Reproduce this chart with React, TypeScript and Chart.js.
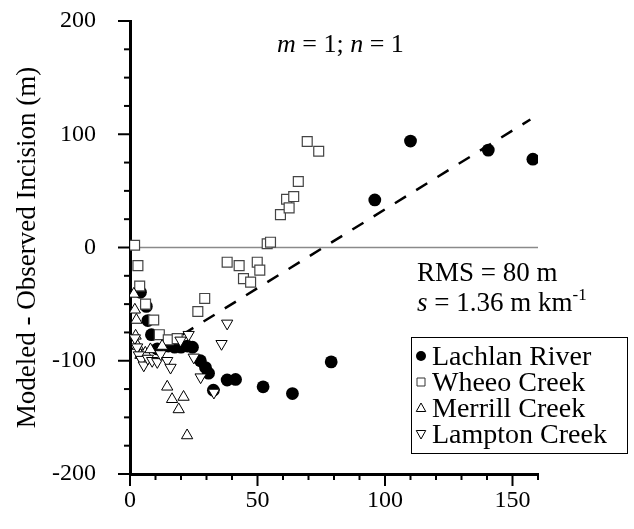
import React, { useEffect, useRef } from "react";
import { Chart, registerables } from "chart.js";

Chart.register(...registerables);

// Residuals (modeled - observed incision, m) against distance (km)
const lachlanRiver: [number, number][] = [
  [4.1, -39.5], [6.4, -52], [7.0, -64.5], [8.4, -77], [10.7, -89.5],
  [15, -87], [17.5, -88], [20, -88], [22.5, -87], [24.5, -88],
  [27.6, -100], [29.6, -106], [30.8, -111], [32.7, -126],
  [38.1, -117], [41.4, -116.5], [52.2, -123], [63.7, -129], [78.9, -101],
  [96, 42], [110, 94], [140.5, 86], [158, 78],
];

const wheeoCreek: [number, number][] = [
  [1.8, 2], [3.1, -16], [3.8, -34], [6.1, -50], [9.3, -64], [11.5, -77],
  [15, -81.5], [18.5, -80.5], [26.6, -56.5], [29.3, -45], [38.1, -13],
  [42.8, -16], [44.5, -27.5], [47.3, -30.6], [49.9, -13], [50.9, -20],
  [53.8, 3.3], [55.1, 4.7], [59, 29], [61.4, 42.6], [62.4, 35], [64.2, 45],
  [66, 58.3], [69.5, 93.6], [74, 85],
];

const merrillCreek: [number, number][] = [
  [1.5, -41], [1.9, -55], [2.5, -64], [2.2, -78], [3, -87], [4.1, -95],
  [6, -93], [8, -90], [12.6, -87], [14.6, -123], [16.5, -134], [19.1, -143],
  [21, -132], [22.4, -166],
];

const lamptonCreek: [number, number][] = [
  [1.9, -80], [2.8, -88], [3.5, -95], [4.5, -99], [5.4, -104], [7, -98],
  [8.7, -100], [10.7, -101], [12, -94], [14.6, -100], [15.9, -106],
  [19.8, -82], [23, -77], [25, -97], [27.7, -114.5], [32.9, -128],
  [35.9, -85], [38.1, -67],
];

// Dashed trend and zero reference line
const trendLine: [number, number][] = [[20.5, -77], [157, 113]];
const zeroLine: [number, number][] = [[0, 0], [160, 0]];

const xMajorTicks = [0, 50, 100, 150];
const yMajorTicks = [-200, -100, 0, 100, 200];
const xMinorStep = 10;
const yMinorStep = 25;

const seriesNames = ["Lachlan River", "Wheeo Creek", "Merrill Creek", "Lampton Creek"];

const SERIF = '"Liberation Serif", "Times New Roman", serif';

const toPoints = (arr: [number, number][]) => arr.map(([x, y]) => ({ x, y }));

type MarkerKind = "circle" | "square" | "up" | "down";

function drawMarker(ctx: CanvasRenderingContext2D, kind: MarkerKind, x: number, y: number, r: number) {
  ctx.save();
  ctx.beginPath();
  if (kind === "circle") {
    ctx.arc(x, y, r, 0, Math.PI * 2);
    ctx.fillStyle = "#000";
    ctx.fill();
  } else if (kind === "square") {
    ctx.rect(x - r, y - r, 2 * r, 2 * r);
    ctx.fillStyle = "#fff";
    ctx.fill();
    ctx.strokeStyle = "#333";
    ctx.lineWidth = 1;
    ctx.stroke();
  } else {
    const s = kind === "up" ? 1 : -1;
    ctx.moveTo(x, y - s * r);
    ctx.lineTo(x + r * 0.95, y + s * r * 0.7);
    ctx.lineTo(x - r * 0.95, y + s * r * 0.7);
    ctx.closePath();
    ctx.fillStyle = "#fff";
    ctx.fill();
    ctx.strokeStyle = "#000";
    ctx.lineWidth = 1;
    ctx.stroke();
  }
  ctx.restore();
}

const axisDecor = {
  id: "axisDecor",
  afterDraw(chart: any) {
    const { ctx, chartArea: area } = chart;
    const xs = chart.scales.x;
    const ys = chart.scales.y;
    ctx.save();
    ctx.strokeStyle = "#000";
    ctx.lineWidth = 2;
    for (let v = xs.min; v <= xs.max; v += xMinorStep) {
      const px = xs.getPixelForValue(v);
      const len = xMajorTicks.includes(v) ? 12 : 6;
      ctx.beginPath();
      ctx.moveTo(px, area.bottom);
      ctx.lineTo(px, area.bottom + len);
      ctx.stroke();
    }
    for (let v = ys.min; v <= ys.max; v += yMinorStep) {
      const py = ys.getPixelForValue(v);
      const len = yMajorTicks.includes(v) ? 12 : 6;
      ctx.beginPath();
      ctx.moveTo(area.left, py);
      ctx.lineTo(area.left - len, py);
      ctx.stroke();
    }

    // Model parameters
    ctx.fillStyle = "#000";
    ctx.textBaseline = "alphabetic";
    ctx.textAlign = "left";
    let tx = 277;
    const parts: [string, boolean][] = [["m", true], [" = 1; ", false], ["n", true], [" = 1", false]];
    for (const [t, it] of parts) {
      ctx.font = `${it ? "italic " : ""}26px ${SERIF}`;
      ctx.fillText(t, tx, 52);
      tx += ctx.measureText(t).width;
    }

    // Fit statistics
    ctx.font = `27px ${SERIF}`;
    ctx.fillText("RMS = 80 m", 417, 281);
    tx = 417;
    ctx.font = `italic 27px ${SERIF}`;
    ctx.fillText("s", tx, 311);
    tx += ctx.measureText("s").width;
    ctx.font = `27px ${SERIF}`;
    const body = " = 1.36 m km";
    ctx.fillText(body, tx, 311);
    tx += ctx.measureText(body).width;
    ctx.font = `17px ${SERIF}`;
    ctx.fillText("-1", tx, 300);

    // Legend
    const box = { x: 411, y: 337, w: 216, h: 116 };
    ctx.fillStyle = "#fff";
    ctx.fillRect(box.x, box.y, box.w, box.h);
    ctx.strokeStyle = "#000";
    ctx.lineWidth = 1;
    ctx.strokeRect(box.x + 0.5, box.y + 0.5, box.w, box.h);
    const kinds: MarkerKind[] = ["circle", "square", "up", "down"];
    const sizes = [5, 4, 5, 5];
    ctx.font = `28px ${SERIF}`;
    ctx.textBaseline = "alphabetic";
    ctx.fillStyle = "#000";
    seriesNames.forEach((name, i) => {
      const cy = box.y + 19 + i * 26;
      drawMarker(ctx, kinds[i], box.x + 10, cy, sizes[i]);
      ctx.fillStyle = "#000";
      ctx.fillText(name, box.x + 21, cy + 9);
    });
    ctx.restore();
  },
};

export default function App() {
  const ref = useRef<HTMLCanvasElement | null>(null);

  useEffect(() => {
    if (!ref.current) return;
    const chart = new Chart(ref.current, {
      type: "scatter",
      data: {
        datasets: [
          {
            label: "zero",
            data: toPoints(zeroLine),
            showLine: true,
            borderColor: "#8a8a8a",
            borderWidth: 1.5,
            pointRadius: 0,
            order: 10,
          },
          {
            label: "trend",
            data: toPoints(trendLine),
            showLine: true,
            borderColor: "#000",
            borderWidth: 2.5,
            borderDash: [13, 12],
            pointRadius: 0,
            order: 9,
          },
          {
            label: seriesNames[0],
            data: toPoints(lachlanRiver),
            pointStyle: "circle",
            pointRadius: 6.4,
            backgroundColor: "#000",
            borderColor: "#000",
            borderWidth: 0,
            order: 4,
          },
          {
            label: seriesNames[1],
            data: toPoints(wheeoCreek),
            pointStyle: "rect",
            pointRadius: 7,
            backgroundColor: "#fff",
            borderColor: "#444",
            borderWidth: 1.2,
            order: 3,
          },
          {
            label: seriesNames[2],
            data: toPoints(merrillCreek),
            pointStyle: "triangle",
            pointRadius: 6.5,
            backgroundColor: "#fff",
            borderColor: "#000",
            borderWidth: 1,
            order: 2,
          },
          {
            label: seriesNames[3],
            data: toPoints(lamptonCreek),
            pointStyle: "triangle",
            rotation: 180,
            pointRadius: 6.5,
            backgroundColor: "#fff",
            borderColor: "#000",
            borderWidth: 1,
            order: 1,
          },
        ],
      },
      options: {
        animation: false,
        responsive: false,
        maintainAspectRatio: false,
        layout: { padding: { left: 0, top: 21, right: 96, bottom: 0 } },
        plugins: {
          legend: { display: false },
          tooltip: { enabled: false },
        },
        scales: {
          x: {
            type: "linear",
            min: 0,
            max: 160,
            afterFit: (s: any) => {
              s.height = 55;
              s.paddingLeft = 0;
              s.paddingRight = 0;
            },
            afterBuildTicks: (s: any) => {
              s.ticks = xMajorTicks.map((v) => ({ value: v }));
            },
            grid: { display: false, drawTicks: false },
            border: { display: true, color: "#000", width: 3 },
            ticks: {
              color: "#000",
              padding: 12,
              maxRotation: 0,
              font: { family: SERIF, size: 24 },
            },
          },
          y: {
            type: "linear",
            min: -200,
            max: 200,
            afterFit: (s: any) => {
              s.width = 130;
              s.paddingTop = 0;
              s.paddingBottom = 0;
            },
            afterBuildTicks: (s: any) => {
              s.ticks = yMajorTicks.map((v) => ({ value: v }));
            },
            grid: { display: false, drawTicks: false },
            border: { display: true, color: "#000", width: 3 },
            ticks: {
              color: "#000",
              padding: 34,
              font: { family: SERIF, size: 24 },
            },
            title: {
              display: true,
              text: "Modeled - Observed Incision (m)",
              color: "#000",
              font: { family: SERIF, size: 27 },
              padding: { top: 12, bottom: 0 },
            },
          },
        },
      },
      plugins: [axisDecor],
    });
    return () => chart.destroy();
  }, []);

  return (
    <div style={{ position: "absolute", left: 0, top: 0, width: 634, height: 529, background: "#fff" }}>
      <canvas ref={ref} width={634} height={529} style={{ display: "block" }} />
    </div>
  );
}
